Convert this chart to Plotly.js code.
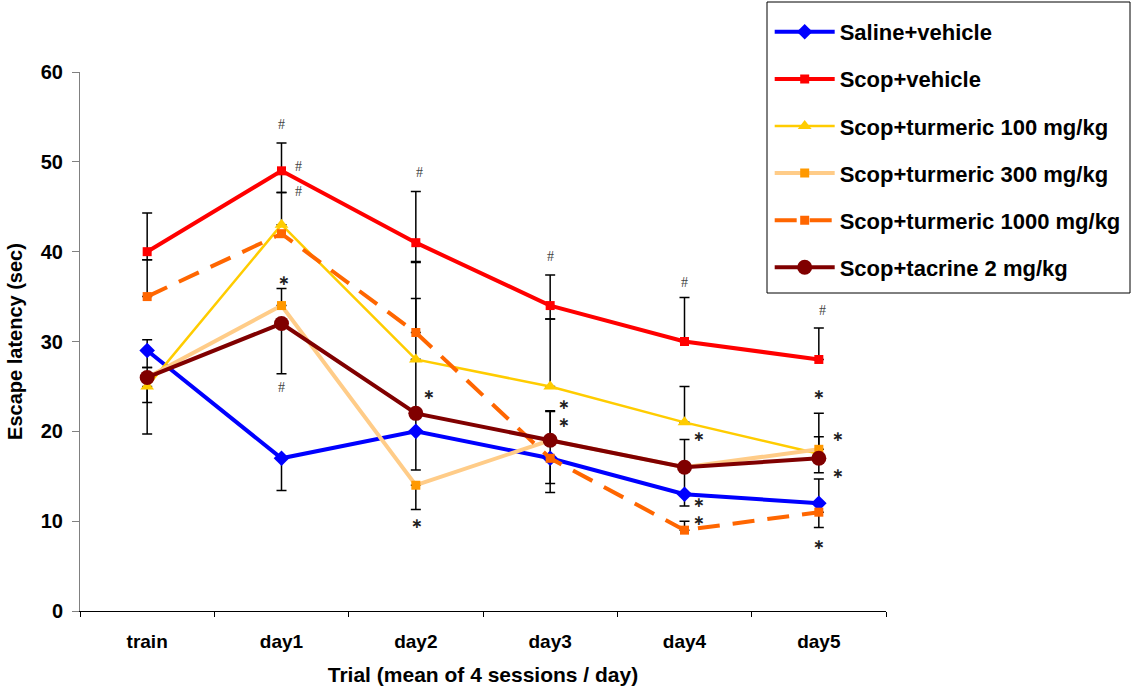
<!DOCTYPE html>
<html>
<head>
<meta charset="utf-8">
<script src="https://cdn.plot.ly/plotly-3.0.1.min.js"></script>
<style>html,body{margin:0;padding:0;background:#fff;}#chart{width:1133px;height:691px;}</style>
</head>
<body>
<div id="chart"></div>
<script>
// ---- data ----
var categories = ['train', 'day1', 'day2', 'day3', 'day4', 'day5'];

var salineVehicle = [29, 17, 20, 17, 13, 12];
var scopVehicle   = [40, 49, 41, 34, 30, 28];
var turmeric100   = [25, 43, 28, 25, 21, 17.5];
var turmeric300   = [26, 34, 14, 19, 16, 18];
var turmeric1000  = [35, 42, 31, 17, 9, 11];
var tacrine2      = [26, 32, 22, 19, 16, 17];

// error bars (plus / minus), null = not drawn
var salinePlus  = [1.2, null, 2, 5.2, null, 2.7];
var salineMinus = [1.9, 3.6, 4.3, 3.8, 1.3, null];
var scopPlus    = [4.3, 3.1, 5.7, 3.4, 4.9, 3.5];
var scopMinus   = [0.9, 2.4, 2.2, 1.5, null, null];
var t100Plus    = [null, 3.6, 6.8, 7.5, 4, 4.5];
var t100Minus   = [5.3, null, null, null, null, null];
var t300Plus    = [1.1, 1.9, null, null, null, 1.4];
var t300Minus   = [null, null, 2.7, null, null, null];
var t1000Plus   = [4.1, null, 7.9, null, 1.0, null];
var t1000Minus  = [null, null, null, 2.8, null, 1.7];
var tacPlus     = [null, null, 6, 3.3, 3.1, null];
var tacMinus    = [2.8, 5.6, null, null, 3, 1.6];

var seriesNames = ['Saline+vehicle', 'Scop+vehicle', 'Scop+turmeric 100 mg/kg',
                   'Scop+turmeric 300 mg/kg', 'Scop+turmeric 1000 mg/kg', 'Scop+tacrine 2 mg/kg'];

// significance marks: [text, category, value, xshift]
var marks = [
  ['#', 'day1', 54.2, 0], ['#', 'day1', 49.5, 17], ['#', 'day1', 46.7, 17],
  ['*', 'day1', 36.8, 2], ['#', 'day1', 24.9, 0],
  ['#', 'day2', 48.8, 4], ['*', 'day2', 24.2, 13], ['*', 'day2', 9.8, 1],
  ['#', 'day3', 39.5, 0], ['**', 'day3', 22.0, 14],
  ['#', 'day4', 36.6, 0], ['*', 'day4', 19.5, 14], ['**', 'day4', 11.1, 14],
  ['#', 'day5', 33.5, 4], ['*', 'day5', 24.2, 0], ['*', 'day5', 19.5, 19], ['*', 'day5', 15.4, 19], ['*', 'day5', 7.5, 0]
];

// ---- build ----
function nn(a) { return a.map(function (v) { return v === null ? NaN : v; }); }

var seriesVals = [salineVehicle, scopVehicle, turmeric100, turmeric300, turmeric1000, tacrine2];
var plusArr = [salinePlus, scopPlus, t100Plus, t300Plus, t1000Plus, tacPlus];
var minusArr = [salineMinus, scopMinus, t100Minus, t300Minus, t1000Minus, tacMinus];

var styles = [
  {line: {color: '#0000FF', width: 4}, marker: {symbol: 'diamond', size: 12, color: '#0000FF'}},
  {line: {color: '#FF0000', width: 4}, marker: {symbol: 'square', size: 9, color: '#FF0000'}},
  {line: {color: '#FFCC00', width: 2.5}, marker: {symbol: 'triangle-up', size: 12, color: '#FFCC00'}},
  {line: {color: '#FFCC88', width: 4}, marker: {symbol: 'square', size: 9, color: '#FF9900'}},
  {line: {color: '#FF6600', width: 4, dash: '22px,13px'}, marker: {symbol: 'square', size: 9, color: '#FF6600'}},
  {line: {color: '#800000', width: 4}, marker: {symbol: 'circle', size: 15, color: '#800000'}}
];

var traces = [];
// error bars first (drawn beneath the series)
for (var i = 0; i < seriesVals.length; i++) {
  traces.push({
    x: categories, y: seriesVals[i], type: 'scatter', mode: 'markers',
    marker: {size: 1, opacity: 0}, showlegend: false, hoverinfo: 'skip', legendgroup: 'e' + i,
    error_y: {type: 'data', symmetric: false, array: nn(plusArr[i]), arrayminus: nn(minusArr[i]),
              color: '#000000', thickness: 1.5, width: 5}
  });
}
for (var j = 0; j < seriesVals.length; j++) {
  traces.push({
    x: categories, y: seriesVals[j], type: 'scatter', mode: 'lines+markers',
    name: seriesNames[j], legendgroup: 'g' + j,
    line: styles[j].line, marker: styles[j].marker
  });
}

var annotations = marks.map(function (m) {
  var star = m[0] !== '#';
  var txt = m[0] === '**' ? '\u2217<br>\u2217' : (star ? '\u2217' : '#');
  return {
    x: m[1], y: m[2], xref: 'x', yref: 'y', text: txt, showarrow: false,
    xshift: m[3], yshift: 0,
    font: star ? {family: 'DejaVu Sans', size: 14, color: '#222', weight: 'bold'} : {family: 'Liberation Serif', size: 14, color: '#444'}
  };
});

var layout = {
  width: 1133, height: 691,
  paper_bgcolor: '#ffffff', plot_bgcolor: '#ffffff',
  margin: {l: 80, r: 247, t: 72, b: 80, pad: 0, autoexpand: false},
  font: {family: 'Liberation Sans', color: '#000'},
  showlegend: true,
  xaxis: {
    type: 'category', range: [-0.5, 5.5], tickson: 'boundaries',
    ticks: 'outside', ticklen: 5, tickcolor: '#000', tickwidth: 1,
    showline: true, linecolor: '#000', linewidth: 1, showgrid: false, zeroline: false,
    ticklabelstandoff: 13,
    tickfont: {family: 'Liberation Sans', size: 19, color: '#000', weight: 'bold'},
    title: {text: 'Trial (mean of 4 sessions / day)', standoff: 16,
            font: {family: 'Liberation Sans', size: 21, color: '#000', weight: 'bold'}}
  },
  yaxis: {
    range: [0, 60], dtick: 10, tick0: 0,
    ticks: 'outside', ticklen: 7, tickcolor: '#808080', tickwidth: 1,
    showline: true, linecolor: '#808080', linewidth: 1, showgrid: false, zeroline: false,
    ticklabelstandoff: 5,
    tickfont: {family: 'Liberation Sans', size: 20, color: '#000', weight: 'bold'},
    title: {text: 'Escape latency (sec)', standoff: 12,
            font: {family: 'Liberation Sans', size: 20, color: '#000', weight: 'bold'}}
  },
  shapes: [{
    type: 'rect', xref: 'paper', yref: 'paper', layer: 'above',
    x0: (767 - 80) / 806, x1: (1130 - 80) / 806, y0: (611 - 293) / 539, y1: (611 - 2) / 539,
    line: {color: '#000', width: 1}, fillcolor: '#ffffff'
  }],
  legend: {
    x: 0.8557, y: (611 - 11) / 539, xanchor: 'left', yanchor: 'top',
    bgcolor: 'rgba(255,255,255,0)', bordercolor: '#000', borderwidth: 0,
    font: {family: 'Liberation Sans', size: 22, color: '#000', weight: 'bold'},
    tracegroupgap: 15.5, itemwidth: 60, traceorder: 'grouped'
  },
  annotations: annotations
};

Plotly.newPlot('chart', traces, layout, {displayModeBar: false, staticPlot: true});
</script>
</body>
</html>
